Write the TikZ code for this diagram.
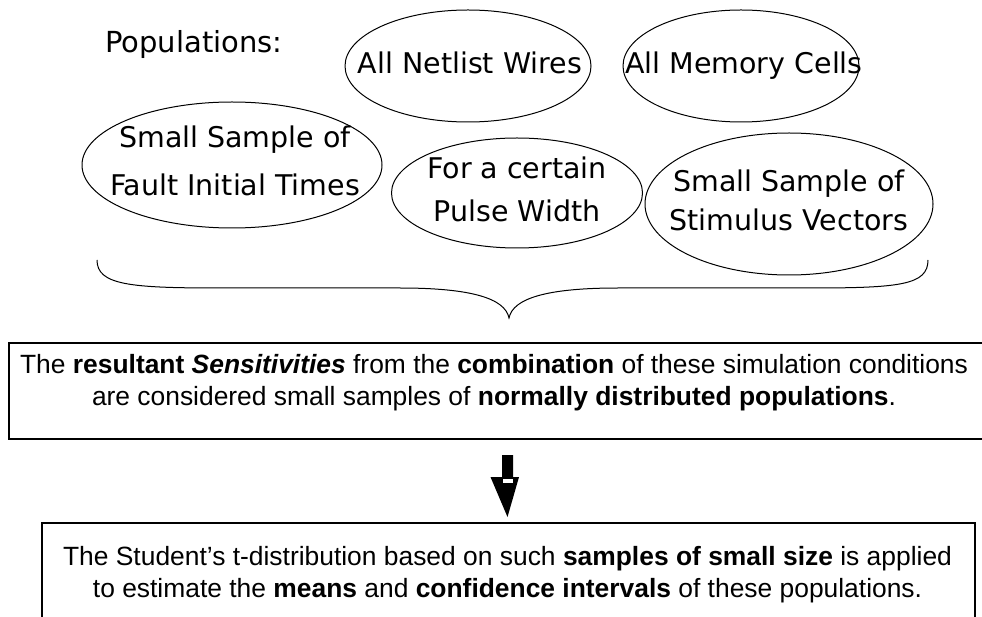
\documentclass[tikz,border=0pt]{standalone}
\usepackage{fontspec}
\setmainfont{Liberation Sans}
\newfontfamily\ellfont{DejaVu Sans}
\usetikzlibrary{positioning,shapes.geometric}

\tikzset{
  pop/.style={draw, ellipse, line width=1pt, inner sep=0pt},
  poptext/.style={align=center, inner sep=0pt, font=\ellfont\fontsize{28.5}{39}\selectfont},
  frame/.style={draw, line width=1.2pt, inner sep=0pt},
  frametext/.style={align=center, inner sep=0pt, font=\fontsize{26.4}{32}\selectfont}
}

\begin{document}
\begin{tikzpicture}[x=1pt,y=-1pt]
		\useasboundingbox (0,0) rectangle (982,617);
		% populations
		\node[anchor=base west, inner sep=0pt, font=\ellfont\fontsize{29}{34}\selectfont] (title) at (105,53) {Populations:};
		\node[pop, minimum width=246, minimum height=112] (wires) at (468,66) {};
		\node[pop, minimum width=236, minimum height=112] (memory) at (741,66) {};
		\node[pop, minimum width=300, minimum height=126] (fault) at (232,165) {};
		\node[pop, minimum width=251, minimum height=110] (pulse) at (517,193) {};
		\node[pop, minimum width=288, minimum height=142] (stimulus) at (789,204) {};
		\node[poptext, anchor=base] (wirestext) at (470,74) {All Netlist Wires};
		\node[poptext, anchor=base] (memorytext) at (744,74) {All Memory Cells};
		\node[poptext] (faulttext) at (235,161) {Small Sample of\\[9pt]Fault Initial Times};
		\node[poptext] (pulsetext) at (517,189) {For a certain\\[4pt]Pulse Width};
		\node[poptext] (stimulustext) at (789,200) {Small Sample of\\Stimulus Vectors};
		% brace
		\coordinate (bl) at (97,260);
		\coordinate (br) at (928,260);
		\coordinate (tip) at (509,318);
		\draw[line width=1pt] (bl) .. controls (97,285) and (130,288) .. (220,288) -- (400,288)
			.. controls (470,288) and (505,298) .. (tip)
			.. controls (513,298) and (548,288) .. (618,288) -- (810,288)
			.. controls (900,288) and (928,285) .. (br);
		% boxes
		\node[frame, minimum width=975, minimum height=96] (cond) at (496.5,391) {};
		\node[frametext] (condtext) at (494,383) {The \textbf{resultant \textit{Sensitivities}} from the \textbf{combination} of these simulation conditions\\
			are considered small samples of \textbf{normally distributed populations}.};
		\node[frame, minimum width=933, minimum height=99] (student) at (508.5,572.5) {};
		\node[frametext] (studenttext) at (507.5,574.5) {The Student’s t-distribution based on such \textbf{samples of small size} is applied\\
			to estimate the \textbf{means} and \textbf{confidence intervals} of these populations.};
		% arrow
		\coordinate (arr) at (507.5,455);
		\fill (arr) ++(-5.5,0) -- ++(11,0) -- ++(0,22) -- ++(6,0) -- (507.5,517) -- (490.5,477) -- (502,477) -- cycle;
		\fill[white] (502.5,479) rectangle (512.5,483);
	\end{tikzpicture}
\end{document}
